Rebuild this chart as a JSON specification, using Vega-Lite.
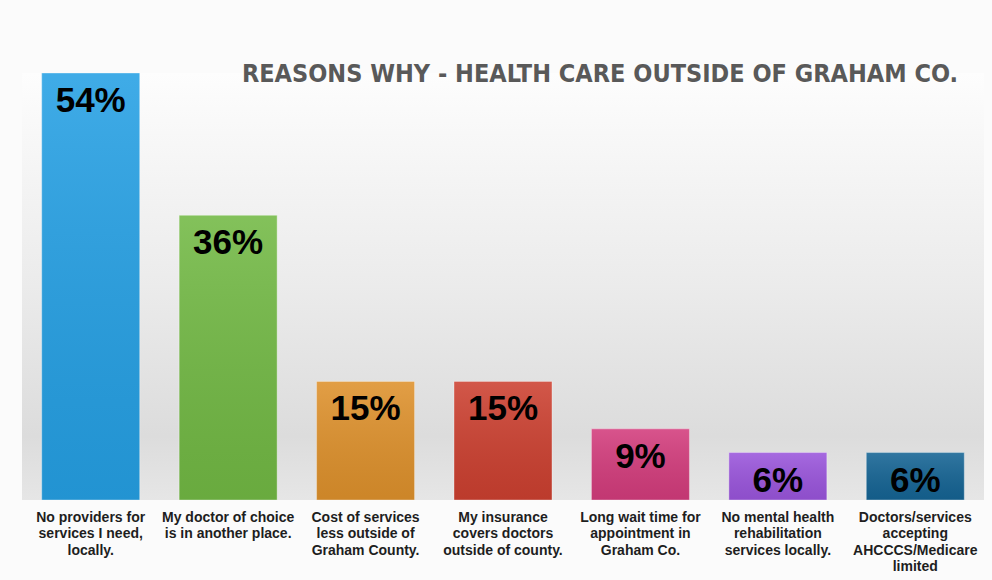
{
  "$schema": "https://vega.github.io/schema/vega-lite/v6.json",
  "width": 962,
  "height": 427,
  "autosize": {"type": "none"},
  "padding": {"left": 22, "top": 73, "right": 8, "bottom": 80},
  "background": "#fbfbfb",
  "view": {
    "stroke": null,
    "fill": {
      "gradient": "linear", "x1": 0, "y1": 0, "x2": 0, "y2": 1,
      "stops": [
        {"offset": 0, "color": "#fdfdfd"},
        {"offset": 0.5, "color": "#ebebeb"},
        {"offset": 0.85, "color": "#dcdcdc"},
        {"offset": 1, "color": "#e6e6e6"}
      ]
    }
  },
  "title": {
    "text": "REASONS WHY - HEALTH CARE OUTSIDE OF GRAHAM CO.",
    "anchor": "end",
    "frame": "group",
    "orient": "top",
    "offset": 0,
    "baseline": "alphabetic",
    "dy": 34,
    "dx": -26,
    "font": "DejaVu Sans Condensed",
    "fontSize": 25,
    "fontWeight": "bold",
    "color": "#595959"
  },
  "data": {
    "values": [
      {"reason": "No providers for|services I need,|locally.", "value": 0.54, "group": "a"},
      {"reason": "My doctor of choice|is in another place.", "value": 0.36, "group": "b"},
      {"reason": "Cost of services|less outside of|Graham County.", "value": 0.15, "group": "c"},
      {"reason": "My insurance|covers doctors|outside of county.", "value": 0.15, "group": "d"},
      {"reason": "Long wait time for|appointment in|Graham Co.", "value": 0.09, "group": "e"},
      {"reason": "No mental health|rehabilitation|services locally.", "value": 0.06, "group": "f"},
      {"reason": "Doctors/services|accepting|AHCCCS/Medicare|limited", "value": 0.06, "group": "g"}
    ]
  },
  "encoding": {
    "x": {
      "field": "reason",
      "type": "nominal",
      "sort": null,
      "scale": {"paddingInner": 0.287, "paddingOuter": 0.1435},
      "axis": {
        "title": null,
        "labelAngle": 0,
        "labelExpr": "split(datum.value, '|')",
        "labelFont": "Liberation Sans",
        "labelFontSize": 14,
        "labelFontWeight": "bold",
        "labelColor": "#1e1e1e",
        "labelLineHeight": 16.5,
        "labelPadding": 10,
        "labelBaseline": "top",
        "ticks": false,
        "domain": false,
        "grid": false,
        "labelLimit": 200
      }
    },
    "y": {
      "field": "value",
      "type": "quantitative",
      "scale": {"domain": [0, 0.54], "nice": false, "zero": true},
      "axis": null
    }
  },
  "layer": [
    {
      "mark": {"type": "bar"},
      "encoding": {
        "color": {
          "field": "group",
          "type": "nominal",
          "scale": {
            "domain": ["a", "b", "c", "d", "e", "f", "g"],
            "range": ["#25a0e4", "#72b944", "#de912c", "#cc4030", "#d33c7c", "#9a55dc", "#156494"]
          },
          "legend": null
        }
      }
    },
    {
      "mark": {
        "type": "bar",
        "fill": {
          "gradient": "linear", "x1": 0, "y1": 0, "x2": 0, "y2": 1,
          "stops": [
            {"offset": 0, "color": "rgba(255,255,255,0.12)"},
            {"offset": 1, "color": "rgba(0,0,0,0.08)"}
          ]
        },
        "stroke": "rgba(255,255,255,0.35)",
        "strokeWidth": 1
      }
    },
    {
      "mark": {
        "type": "text",
        "baseline": "middle",
        "align": "center",
        "dy": 28,
        "font": "Liberation Sans",
        "fontSize": 35,
        "fontWeight": "bold",
        "color": "#000000"
      },
      "encoding": {
        "text": {"field": "value", "type": "quantitative", "format": ".0%"}
      }
    }
  ]
}
